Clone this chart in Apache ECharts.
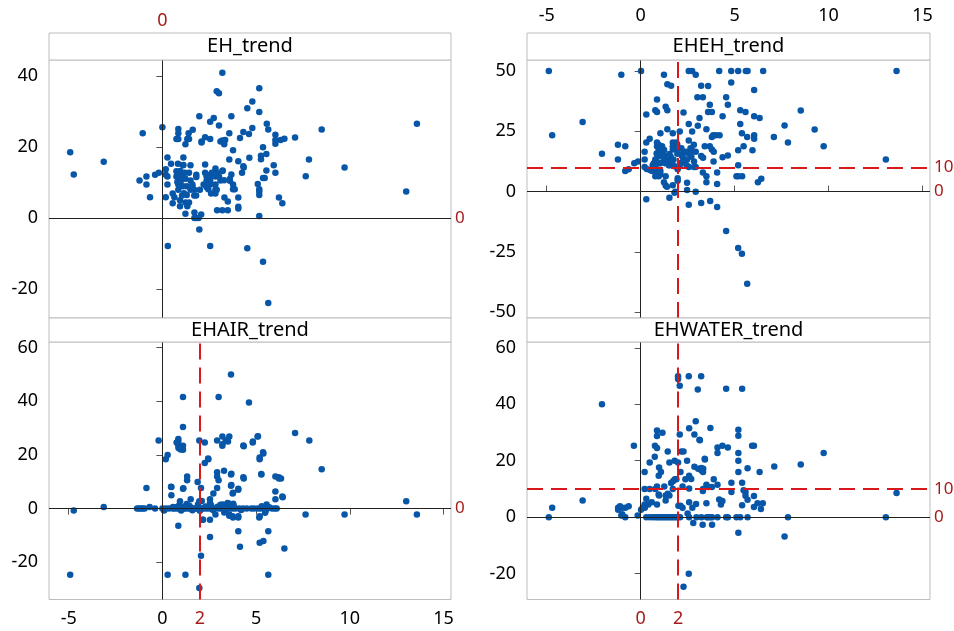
<!DOCTYPE html>
<html><head><meta charset="utf-8">
<script src="https://cdn.jsdelivr.net/npm/echarts@6/dist/echarts.min.js"></script>
<style>html,body{margin:0;padding:0;background:#fff}#c{width:954px;height:631px}</style>
</head><body><div id="c"></div>
<script>
// ---------------- data ----------------
const panelTitles = ['EH_trend', 'EHEH_trend', 'EHAIR_trend', 'EHWATER_trend'];
const xTickValues = [-5, 0, 5, 10, 15];
const yTicksEH = [-20, 0, 20, 40];
const yTicksEHEH = [-50, -25, 0, 25, 50];
const yTicksEHAIR = [-20, 0, 20, 40, 60];
const yTicksEHWATER = [-20, 0, 20, 40, 60];
const refLineZero = 0;
const refLineX2 = 2;
const refLineY10 = 10;

const ehTrend = [
[-4.92,18.6],[-4.73,12.3],[-3.13,15.9],[-1.05,23.9],[-1.22,10.6],[-0.85,11.7],[-0.85,9.5],[-0.66,5.9],[-0.39,12.2],[-0.19,12.8],[0,25.6],
[0.18,13.8],[0.18,12.2],[0.27,11.7],[0.27,17.1],[0.46,15.3],[0.18,5.9],[0.27,9.5],[0.55,6.9],[0.64,5.9],[0.55,4.2],[0.75,13.2],[0.85,25.1],[0.85,23.9],[0.75,22.3],[0.85,22.3],[0.83,15.3],[0.75,11.7],[0.85,11.7],[0.94,11.7],[1.0,11.7],[0.8,10.2],[0.85,9.5],[0.94,9.5],[1.0,10.7],[0.85,8.0],[0.94,5.0],
[1.12,17.1],[1.12,15.0],[1.23,20.8],[1.12,12.2],[1.23,11.1],[1.1,9.0],[1.3,9.0],[1.23,4.4],[1.23,1.2],[0.94,3.3],[1.33,22.3],[1.42,22.3],[1.4,23.9],[1.62,24.9],[1.42,12.8],[1.5,10.6],[1.6,9.5],[1.5,8.0],[1.7,8.0],[1.42,4.4],[1.33,3.3],[1.71,1.6],[1.71,0],[1.82,0],[1.93,0],[1.97,28.7],[1.97,-3.2],[0.29,-7.9],[2.55,-7.9],
[1.81,12.2],[1.81,11.6],[2.0,8.0],[2.07,1.0],[2.09,21.6],[2.09,21.3],[2.28,22.8],[2.28,15.1],[2.28,12.8],[2.55,27.2],[2.74,28.2],[2.55,22.3],[3.02,26.1],[2.9,35.8],[3.02,35.2],[3.2,41.0],[3.2,21.9],[3.1,21.6],[3.35,22.0],
[2.55,11.7],[2.55,10.6],[2.55,9.5],[2.36,11.7],[2.36,10.6],[2.36,8.7],[2.64,12.8],[2.36,12.2],[2.83,14.0],[2.83,12.8],[2.83,11.7],[2.83,9.5],[2.83,8.0],[2.83,6.9],[2.92,2.2],[3.2,2.2],[2.92,12.8],[3.02,11.7],[3.2,13.3],[3.1,10.6],
[1.05,6.4],[1.15,7.0],[1.3,6.5],[0.9,10.2],[1.05,12.3],[1.2,12.8],[0.95,13.3],[1.5,14.9],[1.1,14.9],[1.6,9.0],[1.7,6.4],[1.8,6.4],[2.2,9.5],[2.45,10.2],[2.45,8.1],[2.6,6.9],[2.7,12.3],[2.9,8.0],
[3.68,28.7],[5.57,26.6],[5.65,25.0],[3.57,23.9],[4.8,25.4],[4.32,24.3],[4.62,23.7],[4.14,22.6],[3.3,20.8],[6.03,23.5],[6.03,22.0],[6.03,21.0],[6.31,22.0],[6.51,22.4],[7.08,22.7],[5.37,20.0],[3.77,19.1],[5.55,18.1],[5.26,17.6],[5.26,16.6],[4.64,17.0],[3.57,16.5],[4.05,16.0],[4.32,14.6],[3.22,13.4],[5.55,13.4],[5.94,14.9],[6.03,12.8],[7.65,11.8],[7.82,16.5],
[3.6,11.0],[3.68,12.3],[3.77,9.5],[3.6,10.5],[3.29,10.7],[5.37,11.3],[5.46,11.3],[5.09,9.6],[5.17,8.1],[5.17,7.5],[5.17,6.5],[3.77,8.1],[3.86,8.1],[4.05,5.8],[4.05,3.2],[4.05,2.7],[3.31,5.8],[3.49,4.7],[6.22,5.8],[6.4,4.2],[3.49,2.2],[5.17,0.6],[4.53,-8.5],[5.37,-12.3],[5.65,-24.0],
[4.8,32.9],[4.53,31.0],[5.17,29.9],[5.17,36.6],[4.34,14.3],[4.25,12.8],[8.5,25.0],[9.72,14.3],[13.01,7.5],[13.58,26.6]
];

const ehehTrend = [
[-4.89,50],[-4.71,23.4],[-3.09,28.9],[-2.06,15.7],[-1.21,19.5],[-1.21,13.3],[-1.03,48.5],[-0.82,18.8],[-0.82,8.6],[-0.64,9.3],[-0.34,11.8],[-0.14,12.5],[0.02,50],[0.21,16.5],[0.21,13.3],[0.21,10.2],[0.32,9.4],[0.3,32],[0.3,20.4],[0.3,-3.2],[0.48,21.9],[0.5,9.0],[0.6,8.6],[0.64,11.0],[0.7,11.8],[0.78,13.3],[0.78,12.0],[0.78,10.2],[0.78,8.6],[0.78,6.4],[0.78,33.8],[0.87,33.0],[0.87,38.2],[0.87,20.4],[0.87,18.8],[0.96,18.1],[0.96,19.5],[1.05,24.2],[0.96,11.8],[1.05,11.8],[1.05,8.6],[1.05,7.2],[0.96,6.4],[1.14,18.8],[1.14,18.1],
[1.24,48.5],[1.33,35.2],[1.42,33.8],[1.24,15.0],[1.33,13.3],[1.33,11.8],[1.33,6.4],[1.24,3.9],[1.33,2.5],[1.4,2.0],[1.42,25.9],[1.42,44.5],[1.62,43.9],[1.53,10.9],[1.53,13.3],[1.53,15.6],[1.53,-2.5],[1.71,24.2],[1.71,20.4],[1.71,18.8],[1.71,17.5],[1.71,2.7],[1.8,-0.5],[1.85,0],[1.9,20.4],[1.95,19.5],[1.95,17.5],[1.95,15.7],[2.08,24.9],[2.08,10.9],[1.97,9.3],[1.97,5.6],[1.97,4.5],[2.17,18.0],[2.25,15.8],[2.27,13.8],[2.27,12.5],[2.28,32.8],[2.47,13.3],[2.47,0.7],[2.47,3.7],
[2.56,50],[2.74,50],[2.56,28.1],[2.56,21.2],[2.56,15.8],[2.56,10.2],[2.56,-5.4],[2.74,24.9],[2.83,19.5],[2.84,12.5],[2.93,48.5],[2.93,16.5],[2.93,10.2],[2.84,10.2],[2.93,0],[3.02,39.1],[3.04,27.3],[3.13,30.5],[3.22,43.9],[3.22,14.8],[3.32,14.1],[3.22,-4.7],[3.31,39.1],[3.31,7.9],[3.41,18.8],[3.5,25.9],[3.5,6.4],[3.5,3.9],[3.59,43.8],[3.59,33],[3.79,33],[3.68,36.0],[3.68,18.8],[3.7,-3.9],[3.79,22.7],[3.79,17.5],[3.89,16.5],[3.86,23.4],[4.0,23.4],[4.2,23.4],[3.88,12.5],[4.07,7.9],[4.07,3.2],[4.07,-6.4],
[4.18,50],[4.36,31.3],[4.36,14.3],[4.55,39.1],[4.55,-16.3],[4.64,36.0],[4.64,15.0],[4.82,50],[4.82,45.3],[5.19,50],[5.19,17.2],[5.19,10.9],[5.1,6.4],[5.2,6.4],[5.4,6.4],[5.19,-23.4],[5.3,33.8],[5.3,28.1],[5.39,24.2],[5.39,-25.8],[5.48,18.8],[5.58,33],[5.6,50],[5.69,50],[5.67,22.7],[5.67,-38.2],[5.95,17.2],[6.04,42.2],[6.04,31.3],[6.04,23.4],[6.04,21.9],[6.24,3.9],[6.33,30.5],[6.42,5.4],[6.52,50],[7.09,22.7],[7.66,27.4],[7.84,20.4],[8.52,33.7],[9.26,25.8],[9.74,18.8],[13.05,13.3],[13.62,50],
[0.9,14.5],[1.0,15.5],[1.1,16.3],[1.15,14.8],[1.2,12.5],[0.95,16.8],[1.25,17.3],[0.85,15.8],[1.4,12.0],[1.5,11.0],[1.6,14.5],[1.65,12.0],[1.75,13.2],[1.8,10.5],[2.1,11.8],[2.2,14.8],[2.35,12.0],[2.4,16.5],[2.45,11.0],[2.65,18.0],[2.7,14.5],[2.75,16.9]
];

const ehairTrend = [
[-4.92,-24.7],[-4.73,-0.7],[-3.13,0.6],[-1.35,0],[-1.25,0],[-1.15,0],[-1.05,0],[-0.95,0],[-0.85,7.7],[-0.68,0.6],[-0.39,0],[-0.2,25.4],[0,0],[0.09,-0.7],[0.18,0],[0.18,18.4],[0.28,20],[0.28,-24.7],[0.48,8.0],[0.48,5.0],[0.57,0.6],[0.66,0],[0.76,0.6],[0.76,24.6],[0.85,25.9],[0.85,25.1],[0.85,23.4],[0.85,-6.4],[0.94,2.7],[1.1,41.6],[1.1,30.4],[1.1,23.4],[1.1,21.9],[1.1,7.4],[1.23,-24.7],[1.32,12.0],[1.32,10.6],[1.51,3.5],[1.88,9.9],[1.97,25.4],[1.97,2.7],[2.06,7.7],[2.06,-17.6],[1.97,-29.6],[2.17,-4.2],[2.26,24.6],[2.26,17.0],[2.45,18.4],
[2.54,3.5],[2.54,2.1],[2.54,-4.2],[2.54,-10.6],[2.72,5.6],[2.83,-2.2],[2.92,25.4],[2.92,13.5],[2.92,12.0],[3.0,10.6],[2.92,7.7],[3.0,41.6],[3.2,26.9],[3.2,23.4],[3.29,14.1],[3.38,25.4],[3.48,25.4],[3.57,26.9],[3.48,2.1],[3.57,-2.2],[3.66,50],[3.66,12.7],[3.66,8.5],[3.75,5.6],[3.75,-2.9],[4.05,7.0],[4.05,-2.9],[4.05,-8.5],[4.14,-14.2],[4.34,23.2],[4.34,11.2],[4.62,39.5],[4.82,24.6],[5.08,26.9],[5.19,19.0],[5.19,18.4],[5.19,-2.9],[5.19,-12.7],[5.28,12.7],[5.39,20.5],[5.39,-12.1],[5.48,-1.6],[5.56,1.5],[5.65,-8.5],[5.65,-24.7],[6.03,12.0],[6.03,6.4],[6.03,3.5],[6.22,11.2],[6.33,11.2],[6.42,4.2],[6.51,-14.9],[7.08,28.2],[7.64,-2.2],[7.84,25.4],[8.5,14.7],[9.72,-2.2],[13.01,2.7],[13.58,-2.2],
[0.35,0],[0.55,0],[0.8,0],[0.9,0],[1.0,0],[1.15,0],[1.25,0],[1.4,0],[1.5,0],[1.6,0],[1.7,0],[1.8,0],[1.9,0],[2.0,0],[2.1,0],[2.2,0],[2.35,0],[2.5,0],[2.65,0],[2.8,0],[3.0,0],[3.15,0],[3.3,0],[3.45,0],[3.6,0],[3.75,0],[3.9,0],[4.1,0],[4.3,0],[4.5,0],[4.75,0],[4.9,0],[5.1,0],[5.25,0],[5.45,0],[5.6,0],[5.85,0],[6.0,0],[6.1,0],
[0.9,1.2],[1.0,-0.7],[1.2,0.9],[1.45,1.0],[1.6,-0.6],[1.9,1.5],[2.0,-0.8],[2.3,0.8],[2.6,1.2],[2.7,-0.5],[2.95,0.7],[3.1,1.4],[3.35,-0.6],[3.5,0.9],[3.8,1.1],[4.2,-0.5],[5.3,0.9],[5.5,-1.0],[5.7,0.5],[1.3,1.7],[2.1,2.8],
[3.22,1.5],[3.5,2.0],[3.78,1.8],[3.3,-1.5],[3.57,-2.7],[3.77,-3.3],[4.05,-3.3],[5.17,-3.3],[3.68,13.0],[3.68,8.8],[3.77,5.9],[4.05,7.4],[4.32,11.7],[5.28,12.9],[6.21,11.7],[6.4,4.5],[0.46,8.1],[1.12,7.6],[2.15,-4.2],[3.2,24.0],[3.5,25.0],[4.32,23.5],[4.83,25.0],[5.1,27.0],[5.37,21.0],[0.86,22.6],[0.97,22.0],[2.44,18.7]
];

const ehwaterTrend = [
[-4.89,0],[-4.71,3.3],[-3.09,5.9],[-2.06,40],[-1.2,3.3],[-1.2,2.6],[-1.1,3.9],[-1.03,0.6],[-0.82,0],[-1.0,3.3],[-0.82,3.3],[-0.64,3.9],[-0.98,1.0],[-0.36,25.3],[-0.16,0.6],[0.02,2.6],[0.11,3.3],[0.21,16],[0.21,10],[0.48,10],[0.3,6.5],[0.21,4.5],[0.41,4.5],[0.22,3.3],[0.3,0],[0.48,0],[0.65,0],[0.48,19.4],[0.59,5.3],[0.75,21.4],[0.76,25.3],[0.87,24.5],[0.87,30.7],[0.87,28.8],[0.78,10],[0.87,10.9],[0.87,4.5],[0.96,8.0],[0.96,14.7],[1.08,16],[1.16,29.9],[1.26,10.9],[1.33,5.9],[1.44,23.3],[1.33,7.7],[1.44,8.3],[1.53,7.7],[0.98,7.7],[0.98,17.6],[1.53,19.4],[1.62,12.1],[1.73,12.8],[1.82,13.4],[1.9,13.4],[1.81,20],[1.99,19.4],[1.71,10],
[1.99,50],[1.99,49],[2.08,46.6],[2.08,29.3],[2.01,4.0],[2.12,4.0],[2.17,23.3],[2.28,23.3],[2.12,16],[2.23,10.9],[2.23,3.3],[2.28,-24.7],[2.38,13.4],[2.47,20],[2.5,1.3],[2.56,50],[2.58,31.5],[2.58,14.7],[2.58,10.2],[2.58,5.3],[2.56,-20.1],[2.69,13.5],[2.75,3.3],[2.8,-2.1],[2.86,29.3],[2.86,17.9],[3.06,17.2],[2.95,4.7],[2.93,34],[3.04,45.3],[3.15,27.3],[3.22,50],[3.24,16.5],[3.33,17.2],[3.42,20.4],[3.31,9.3],[3.3,-2.7],[3.5,11.5],[3.6,10.7],[3.79,10.7],[3.32,10.0],[3.5,4.9],[3.71,31.6],[3.8,-2.7],[3.89,13.4],[4.09,24.7],[4.09,22.7],[4.09,11.5],[4.18,6.3],[4.27,4.5],[4.35,5.7],[4.35,25.3],[4.55,45.5],[4.64,24.7],[4.83,12.2],[4.83,8.9],
[5.2,31.0],[5.2,28.9],[5.2,22.7],[5.2,20],[5.2,16],[5.2,-5.5],[5.4,45.5],[5.4,12.2],[5.4,4.2],[5.48,9.5],[5.58,8.9],[5.58,7.6],[5.69,6.2],[5.69,17.3],[5.93,25.3],[6.03,25.3],[6.03,7.5],[6.03,3.6],[6.22,4.9],[6.33,16],[6.4,2.9],[6.5,4.9],[7.11,18],[7.66,-6.9],[7.84,0],[8.52,18.7],[9.74,22.7],[13.05,0],[13.62,8.6],[3.13,27.4],[3.41,20.7],[3.23,17.4],[3.32,16],
[0.8,0],[0.9,0],[1.0,0],[1.1,0],[1.2,0],[1.3,0],[1.4,0],[1.5,0],[1.6,0],[1.7,0],[1.8,0],[1.9,0],[2.0,0],[2.1,0],[2.58,0],[2.97,0],[3.23,0],[3.52,0],[3.6,0],[3.71,0],[3.8,0],[4.09,0],[4.55,0],[4.64,0],[5.1,0],[5.3,0],[5.69,0]
];

// ---------------- layout / style ----------------
const FONT = 'Noto Sans';
const BLUE = '#0756A8';
const RED_LINE = '#D7191C';
const RED_TEXT = '#A51C1C';
const FRAME = '#BDBDBD';
const TICK_TEXT = '#000';
const XMIN = -6.05, XMAX = 15.4;

const panels = [
  {title: panelTitles[0], data: ehTrend, grid:{left:49, top:60, width:402, height:258}, strip:{y:33, h:27},
   ymin:-28.2, ymax:44.6, yTicks:yTicksEH, redX:[], redY:[], rightLabels:[refLineZero],
   xPos:'top', xTicks:[], xLabels:[refLineZero], xLabelColor:RED_TEXT, xMargin:3},
  {title: panelTitles[1], data: ehehTrend, grid:{left:527, top:60, width:403, height:258}, strip:{y:33, h:27},
   ymin:-52.4, ymax:54.6, yTicks:yTicksEHEH, redX:[refLineX2], redY:[refLineY10], rightLabels:[refLineZero, refLineY10],
   xPos:'top', xTicks:xTickValues, xLabels:xTickValues, xLabelColor:TICK_TEXT, xMargin:8},
  {title: panelTitles[2], data: ehairTrend, grid:{left:49, top:342, width:402, height:257.5}, strip:{y:318, h:24},
   ymin:-33.9, ymax:62.1, yTicks:yTicksEHAIR, redX:[refLineX2], redY:[], rightLabels:[refLineZero],
   xPos:'bottom', xTicks:xTickValues, xLabels:[-5,0,refLineX2,5,10,15], xLabelColor:TICK_TEXT, xMargin:10},
  {title: panelTitles[3], data: ehwaterTrend, grid:{left:527, top:342, width:403, height:257.5}, strip:{y:318, h:24},
   ymin:-29.2, ymax:62.1, yTicks:yTicksEHWATER, redX:[refLineX2], redY:[refLineY10], rightLabels:[refLineZero, refLineY10],
   xPos:'bottom', xTicks:[], xLabels:[refLineZero, refLineX2], xLabelColor:RED_TEXT, xMargin:10}
];

const grids = [], xAxes = [], yAxes = [], series = [], graphics = [];
panels.forEach((p, i) => {
  grids.push(Object.assign({show:true, borderColor:FRAME, borderWidth:1, backgroundColor:'#fff', outerBoundsMode:'none'}, p.grid));
  const redSet = (i === 2) ? [refLineX2] : [];
  xAxes.push({
    gridIndex:i, type:'value', min:XMIN, max:XMAX, position:p.xPos, offset: p.xPos === 'top' ? p.strip.h : 0,
    axisLine:{show:false},
    axisTick:{show:p.xTicks.length > 0, customValues:p.xTicks, length:6, lineStyle:{color:'#555'}},
    axisLabel:{show:true, customValues:p.xLabels, color:p.xLabelColor, fontSize:18, fontFamily:FONT, margin:p.xMargin,
      formatter: v => redSet.indexOf(v) >= 0 ? '{r|' + v + '}' : String(v),
      rich:{r:{color:RED_TEXT, fontSize:18, fontFamily:FONT}}},
    splitLine:{show:false}
  });
  yAxes.push({
    gridIndex:i, type:'value', min:p.ymin, max:p.ymax, position:'left',
    axisLine:{show:false},
    axisTick:{show:true, customValues:p.yTicks, length:6, lineStyle:{color:'#555'}},
    axisLabel:{customValues:p.yTicks, color:TICK_TEXT, fontSize:18, fontFamily:FONT, margin:11},
    splitLine:{show:false}
  });
  yAxes.push({
    gridIndex:i, type:'value', min:p.ymin, max:p.ymax, position:'right',
    axisLine:{show:false}, axisTick:{show:false},
    axisLabel:{customValues:p.rightLabels, color:RED_TEXT, fontSize:17, fontFamily:FONT, margin:4},
    splitLine:{show:false}
  });
  const ml = [
    {xAxis:refLineZero, lineStyle:{color:'#222', width:1, type:'solid'}},
    {yAxis:refLineZero, lineStyle:{color:'#222', width:1, type:'solid'}}
  ];
  p.redX.forEach(v => ml.push({xAxis:v, lineStyle:{color:RED_LINE, width:2, type:[16,8]}}));
  p.redY.forEach(v => ml.push({yAxis:v, lineStyle:{color:RED_LINE, width:2, type:[16,8]}}));
  series.push({
    type:'scatter', xAxisIndex:i, yAxisIndex:2*i, data:p.data, symbol:'circle', symbolSize:6.5,
    itemStyle:{color:BLUE, opacity:1}, animation:false, silent:true,
    markLine:{silent:true, symbol:['none','none'], label:{show:false}, data:ml, animation:false}
  });
  graphics.push({type:'rect', shape:{x:p.grid.left, y:p.strip.y, width:p.grid.width, height:p.strip.h},
    style:{fill:'#fff', stroke:FRAME, lineWidth:1}, z:10});
  graphics.push({type:'text', x:p.grid.left + p.grid.width / 2, y:p.strip.y + p.strip.h / 2,
    style:{text:p.title, fill:'#000', font:'20px "' + FONT + '"', textAlign:'center', textVerticalAlign:'middle'}, z:11});
});

const chart = echarts.init(document.getElementById('c'), null, {renderer:'canvas'});
chart.setOption({
  animation:false, backgroundColor:'#fff',
  grid:grids, xAxis:xAxes, yAxis:yAxes, series:series, graphic:graphics
});
</script></body></html>
